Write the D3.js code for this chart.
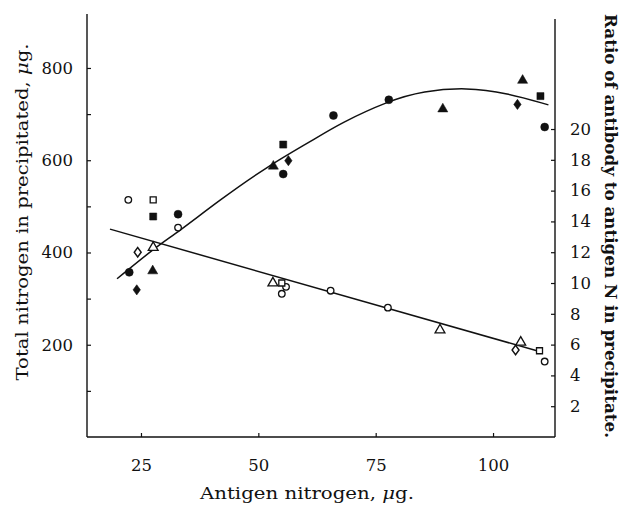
<!DOCTYPE html>
<html>
<head>
<meta charset="utf-8">
<script src="https://cdn.jsdelivr.net/npm/d3@7"></script>
<style>
  body { margin: 0; background: #fff; }
  svg { display: block; }
  text { fill: #111; }
</style>
</head>
<body>
<svg id="chart" width="624" height="506"></svg>
<script>
// --- data ---
const xTicks = [25, 50, 75, 100];
const leftTicks = [100, 200, 300, 400, 500, 600, 700, 800];
const leftLabels = [200, 400, 600, 800];
const rightTicks = [2, 4, 6, 8, 10, 12, 14, 16, 18, 20];

// total N in precipitate (filled symbols)
const nCircle = [[22.5, 357], [32.9, 483], [55.3, 570], [66.0, 697], [77.8, 731], [111.0, 672]];
const nSquare = [[27.6, 478], [55.3, 634], [110.1, 739]];
const nTriangle = [[27.5, 360], [53.2, 587], [89.3, 711], [106.3, 773]];
const nDiamond = [[24.1, 319], [56.4, 599], [105.2, 721]];

// ratio antibody / antigen N (open symbols)
const rCircle = [[22.3, 15.4], [32.9, 13.6], [55.0, 9.3], [55.9, 9.75], [65.4, 9.5], [77.6, 8.4], [111.0, 4.9]];
const rSquare = [[27.6, 15.4], [55.0, 10.0], [109.9, 5.6]];
const rTriangle = [[27.6, 12.3], [53.1, 10.0], [88.7, 6.95], [105.9, 6.15]];
const rDiamond = [[24.3, 12.0], [104.8, 5.65]];

// drawn curves
const nCurve = [[19.9, 343], [28.3, 413], [32.6, 442], [41.8, 514], [51.8, 586], [61.7, 644],
  [67.4, 680], [77.8, 729], [85.1, 750], [94.4, 758], [102.9, 746], [111.8, 720]];
const rLine = [[18.4, 13.5], [109.9, 5.55]];

const svg = d3.select("#chart");
const plotL = 87, plotR = 555, plotT = 14, plotB = 437;

const x = d3.scaleLinear().domain([13.5, 113.2]).range([plotL, plotR]);
const yL = d3.scaleLinear().domain([0, 917]).range([plotB, plotT]);
const yR = d3.scaleLinear().domain([0, 27.47]).range([plotB, plotT]);

const ink = "#111";
const serif = "'DejaVu Serif', serif";

// axes frame
svg.append("line").attr("x1", plotL).attr("x2", plotL).attr("y1", plotT).attr("y2", plotB)
  .attr("stroke", ink).attr("stroke-width", 1.4);
svg.append("line").attr("x1", plotR).attr("x2", plotR).attr("y1", 19).attr("y2", plotB)
  .attr("stroke", ink).attr("stroke-width", 1.4);

const xAxis = svg.append("g").attr("transform", `translate(0,${plotB})`)
  .call(d3.axisBottom(x).tickValues(xTicks).tickSize(-4).tickPadding(22));
const yAxisL = svg.append("g").attr("transform", `translate(${plotL},0)`)
  .call(d3.axisLeft(yL).tickValues(leftTicks).tickSize(-4).tickPadding(14)
    .tickFormat(d => leftLabels.includes(d) ? d : ""));
const yAxisR = svg.append("g").attr("transform", `translate(${plotR},0)`)
  .call(d3.axisRight(yR).tickValues(rightTicks).tickSize(-4).tickPadding(15));

xAxis.select(".domain").attr("d", `M${plotL},0H${plotR}`);
yAxisL.select(".domain").remove();
yAxisR.select(".domain").remove();

[xAxis, yAxisL, yAxisR].forEach(g => {
  g.selectAll("line").attr("stroke", ink).attr("stroke-width", 1.2);
  g.select(".domain").attr("stroke", ink).attr("stroke-width", 1.4);
  g.selectAll("text").attr("fill", ink).style("font-family", serif).style("font-size", "16.5px");
});

// axis titles
svg.append("text")
  .attr("x", 307).attr("y", 499)
  .attr("text-anchor", "middle")
  .attr("textLength", 214).attr("lengthAdjust", "spacingAndGlyphs")
  .style("font-family", serif).style("font-size", "17px")
  .html("Antigen nitrogen, <tspan font-style='italic'>μ</tspan>g.");

svg.append("text")
  .attr("transform", "translate(28,212) rotate(-90)")
  .attr("text-anchor", "middle")
  .attr("textLength", 337).attr("lengthAdjust", "spacingAndGlyphs")
  .style("font-family", serif).style("font-size", "17px")
  .html("Total nitrogen in precipitated, <tspan font-style='italic'>μ</tspan>g.");

svg.append("text")
  .attr("transform", "translate(605,226) rotate(90)")
  .attr("text-anchor", "middle")
  .attr("textLength", 424).attr("lengthAdjust", "spacingAndGlyphs")
  .style("font-family", serif).style("font-size", "17px").style("font-weight", "bold")
  .text("Ratio of antibody to antigen N in precipitate.");

// curves
const lineN = d3.line().x(d => x(d[0])).y(d => yL(d[1])).curve(d3.curveBasis);
const lineR = d3.line().x(d => x(d[0])).y(d => yR(d[1]));

svg.append("path").attr("d", lineN(nCurve))
  .attr("fill", "none").attr("stroke", ink).attr("stroke-width", 1.5);
svg.append("path").attr("d", lineR(rLine))
  .attr("fill", "none").attr("stroke", ink).attr("stroke-width", 1.5);

// symbols
function drawSymbols(data, yScale, type, size, filled, sx) {
  svg.append("g").selectAll("path")
    .data(data)
    .join("path")
    .attr("d", d3.symbol().type(type).size(size))
    .attr("transform", d => `translate(${x(d[0])},${yScale(d[1])}) scale(${sx || 1},1)`)
    .attr("fill", filled ? ink : "#fff")
    .attr("stroke", ink)
    .attr("stroke-width", filled ? 0.5 : 1.3);
}

drawSymbols(nCircle, yL, d3.symbolCircle, 50, true);
drawSymbols(nSquare, yL, d3.symbolSquare, 50, true);
drawSymbols(nTriangle, yL, d3.symbolTriangle, 44, true);
drawSymbols(nDiamond, yL, d3.symbolDiamond, 30, true, 1.25);

drawSymbols(rCircle, yR, d3.symbolCircle, 34, false);
drawSymbols(rSquare, yR, d3.symbolSquare, 36, false);
drawSymbols(rTriangle, yR, d3.symbolTriangle, 42, false);
drawSymbols(rDiamond, yR, d3.symbolDiamond, 26, false, 1.25);
</script>
</body>
</html>
